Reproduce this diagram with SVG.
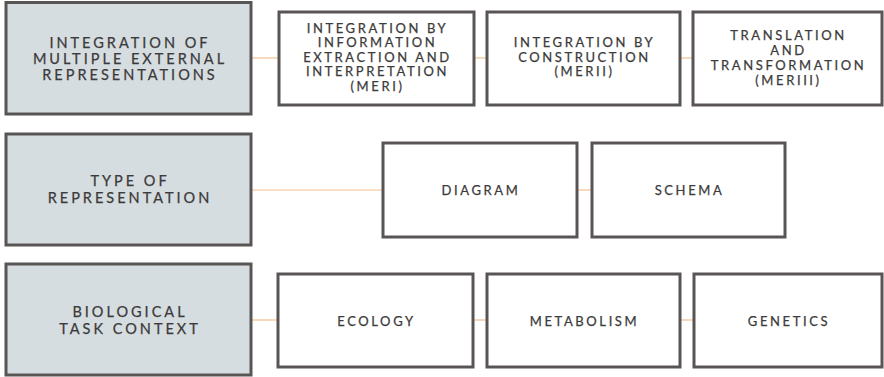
<svg xmlns="http://www.w3.org/2000/svg" width="884" height="377" viewBox="0 0 884 377">
<style>
.main rect{fill:#d6dde0;stroke:#595554;stroke-width:3}
.sub rect{fill:#ffffff;stroke:#595554;stroke-width:3}
text{font-family:Lato,"Open Sans","Liberation Sans",sans-serif;fill:#3c3a3a;text-anchor:middle;stroke:#3c3a3a;stroke-width:0.25}
.main text{font-size:14.5px;letter-spacing:3px}
.sub text{font-size:13px;letter-spacing:2.6px}
#connectors line{stroke:#f2bf8e;stroke-width:1.2}
</style>
<rect width="884" height="377" fill="#ffffff"/>
<g id="connectors">
<line x1="251" y1="58" x2="279" y2="58"/>
<line x1="474" y1="58" x2="487" y2="58"/>
<line x1="680" y1="58" x2="693" y2="58"/>
<line x1="251" y1="190" x2="383" y2="190"/>
<line x1="577" y1="190" x2="592" y2="190"/>
<line x1="251" y1="320" x2="278" y2="320"/>
<line x1="473" y1="320" x2="487" y2="320"/>
<line x1="680" y1="320" x2="694" y2="320"/>
</g>
<g id="mer" class="main">
<rect x="6" y="2.5" width="245" height="111.5"/>
<text x="130" y="48">INTEGRATION OF</text>
<text x="130" y="64">MULTIPLE EXTERNAL</text>
<text x="130" y="80">REPRESENTATIONS</text>
</g>
<g id="meri" class="sub">
<rect x="279" y="12" width="195" height="93"/>
<text x="377.5" y="32.5">INTEGRATION BY</text>
<text x="377.5" y="47">INFORMATION</text>
<text x="377.5" y="61.5">EXTRACTION AND</text>
<text x="377.5" y="76">INTERPRETATION</text>
<text x="377.5" y="90.5">(MERI)</text>
</g>
<g id="merii" class="sub">
<rect x="487" y="12" width="193" height="93"/>
<text x="584.5" y="47">INTEGRATION BY</text>
<text x="584.5" y="61.5">CONSTRUCTION</text>
<text x="584.5" y="76">(MERII)</text>
</g>
<g id="meriii" class="sub">
<rect x="693" y="12" width="189" height="93"/>
<text x="788.5" y="40">TRANSLATION</text>
<text x="788.5" y="55">AND</text>
<text x="788.5" y="70">TRANSFORMATION</text>
<text x="788.5" y="85">(MERIII)</text>
</g>
<g id="type" class="main">
<rect x="6" y="134" width="245" height="111"/>
<text x="130" y="186">TYPE OF</text>
<text x="130" y="203">REPRESENTATION</text>
</g>
<g id="diagram" class="sub">
<rect x="383" y="143" width="194" height="94"/>
<text x="481" y="194.5">DIAGRAM</text>
</g>
<g id="schema" class="sub">
<rect x="592" y="143" width="193" height="94"/>
<text x="689.5" y="194.5">SCHEMA</text>
</g>
<g id="bio" class="main">
<rect x="6" y="264" width="245" height="111"/>
<text x="130" y="316.5">BIOLOGICAL</text>
<text x="130" y="334">TASK CONTEXT</text>
</g>
<g id="ecology" class="sub">
<rect x="278" y="274" width="195" height="93"/>
<text x="376.5" y="326">ECOLOGY</text>
</g>
<g id="metabolism" class="sub">
<rect x="487" y="274" width="193" height="93"/>
<text x="584.5" y="326">METABOLISM</text>
</g>
<g id="genetics" class="sub">
<rect x="694" y="274" width="188" height="93"/>
<text x="789" y="326">GENETICS</text>
</g>
</svg>
